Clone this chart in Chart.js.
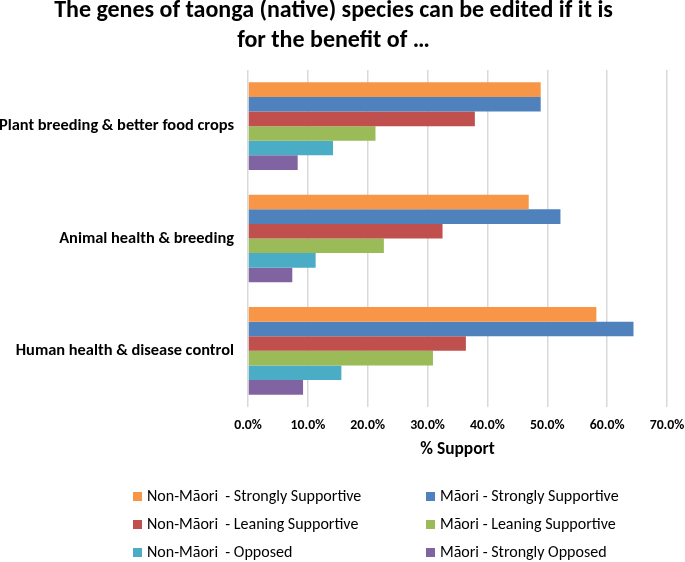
<!DOCTYPE html>
<html>
<head>
<meta charset="utf-8">
<script src="https://cdn.jsdelivr.net/npm/chart.js@4.4.1/dist/chart.umd.min.js"></script>
<style>
  html, body { margin: 0; padding: 0; background: #fff; }
  #wrap { position: relative; width: 685px; height: 562px; }
  canvas { position: absolute; left: 0; top: 0; }
  #legend { position: absolute; left: 0; top: 0; width: 685px; height: 562px; pointer-events: none;
            font-family: Carlito, Lato, sans-serif; font-size: 16px; color: #000; }
  .item { position: absolute; white-space: pre; line-height: 18px; height: 18px; }
  .box { display: inline-block; width: 9px; height: 9px; margin-right: 5px; vertical-align: 0px; }
</style>
</head>
<body>
<div id="wrap">
  <canvas id="c" width="685" height="562"></canvas>
  <div id="legend"></div>
</div>
<script>
const titleLines = ["The genes of taonga (native) species can be edited if it is", "for the benefit of \u2026"];
const categories = ["Plant breeding & better food crops", "Animal health & breeding", "Human health & disease control"];
const seriesNames = [
  "Non-M\u0101ori  - Strongly Supportive",
  "M\u0101ori - Strongly Supportive",
  "Non-M\u0101ori  - Leaning Supportive",
  "M\u0101ori - Leaning Supportive",
  "Non-M\u0101ori  - Opposed",
  "M\u0101ori - Strongly Opposed"
];
const nonMaoriStrong  = [48.9, 46.9, 58.2];
const maoriStrong     = [48.9, 52.2, 64.4];
const nonMaoriLeaning = [37.9, 32.5, 36.4];
const maoriLeaning    = [21.3, 22.7, 30.9];
const nonMaoriOpposed = [14.2, 11.3, 15.6];
const maoriOpposed    = [8.3, 7.4, 9.2];
const colors = ["#F79646", "#4F81BD", "#C0504D", "#9BBB59", "#4BACC6", "#8064A2"];
const xTickMax = 70;
const xAxisTitle = "% Support";

const FONT = 'Carlito, Lato, sans-serif';
const seriesValues = [nonMaoriStrong, maoriStrong, nonMaoriLeaning, maoriLeaning, nonMaoriOpposed, maoriOpposed];

const datasets = seriesValues.map((vals, i) => ({
  label: seriesNames[i],
  data: vals,
  backgroundColor: colors[i],
  borderWidth: 0,
  categoryPercentage: 0.78,
  barPercentage: 1.0
}));

new Chart(document.getElementById('c'), {
  type: 'bar',
  data: { labels: categories, datasets },
  options: {
    indexAxis: 'y',
    responsive: false,
    animation: false,
    layout: { padding: { left: 0, right: 18, top: 0, bottom: 102 } },
    plugins: {
      legend: { display: false },
      tooltip: { enabled: false },
      title: {
        display: true,
        text: titleLines,
        color: '#000',
        font: { family: FONT, size: 24, weight: 'bold', lineHeight: 1.25 },
        padding: { top: -4, bottom: 14 }
      }
    },
    scales: {
      x: {
        min: 0, max: xTickMax,
        ticks: {
          stepSize: 10,
          color: '#000',
          padding: 10,
          maxRotation: 0,
          font: { family: FONT, size: 13.8, weight: 'bold' },
          callback: v => v.toFixed(1) + '%'
        },
        grid: { color: '#d9d9d9', lineWidth: 1.5, drawTicks: false },
        border: { display: false },
        title: {
          display: true, text: xAxisTitle, color: '#000',
          font: { family: FONT, size: 17.4, weight: 'bold' },
          padding: { top: 0, bottom: 0 }
        },
        afterFit: s => { s.height = 53; s.paddingLeft = 0; s.paddingRight = 0; }
      },
      y: {
        ticks: { color: '#000', padding: 6, font: { family: FONT, size: 16.4, weight: 'bold' } },
        grid: { display: false },
        border: { display: false },
        afterFit: s => { s.width = 248; }
      }
    }
  }
});

const legend = document.getElementById('legend');
const colX = [133, 426];
const rowY = [487, 515, 543];
seriesNames.forEach((name, i) => {
  const d = document.createElement('div');
  d.className = 'item';
  d.style.left = colX[i % 2] + 'px';
  d.style.top = rowY[Math.floor(i / 2)] + 'px';
  const b = document.createElement('span');
  b.className = 'box';
  b.style.background = colors[i];
  d.appendChild(b);
  d.appendChild(document.createTextNode(name));
  legend.appendChild(d);
});
</script>
</body>
</html>
